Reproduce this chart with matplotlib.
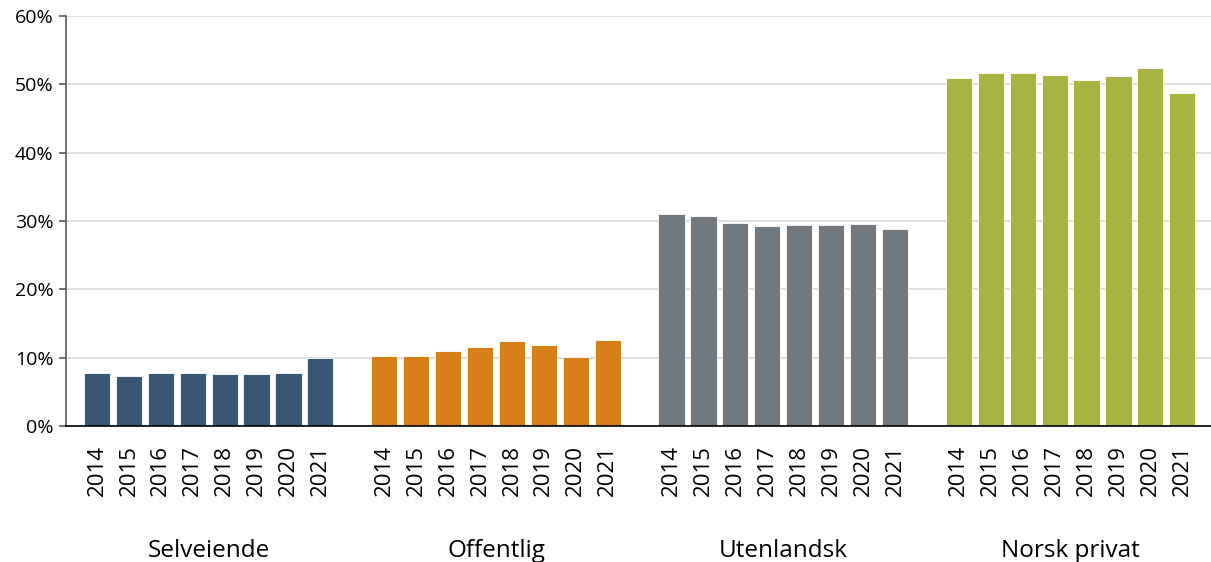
import matplotlib
matplotlib.use("Agg")
import matplotlib.pyplot as plt
import matplotlib.transforms as mtransforms
from matplotlib.ticker import FuncFormatter

years = ["2014", "2015", "2016", "2017", "2018", "2019", "2020", "2021"]
groups = ["Selveiende", "Offentlig", "Utenlandsk", "Norsk privat"]
selveiende = [7.8, 7.3, 7.8, 7.8, 7.65, 7.65, 7.8, 9.95]
offentlig = [10.3, 10.3, 11.0, 11.5, 12.5, 11.85, 10.15, 12.65]
utenlandsk = [31.0, 30.8, 29.7, 29.2, 29.4, 29.4, 29.5, 28.8]
norsk_privat = [50.9, 51.6, 51.6, 51.4, 50.6, 51.2, 52.4, 48.7]
series = [selveiende, offentlig, utenlandsk, norsk_privat]
colors = ["#3A5675", "#D77F17", "#707880", "#A8B340"]

plt.rcParams['font.family'] = ['Open Sans', 'DejaVu Sans']

fig = plt.figure(figsize=(12.11, 5.62), dpi=100)
ax = fig.add_axes([0.0545, 0.242, 0.9455, 0.7295])

xpos_all = []
labels_all = []
for g, (vals, col) in enumerate(zip(series, colors)):
    start = g * 9
    xs = [start + i for i in range(len(vals))]
    ax.bar(xs, vals, width=0.82, color=col, edgecolor="white", linewidth=0.6, zorder=3)
    xpos_all += xs
    labels_all += years
    trans = mtransforms.blended_transform_factory(ax.transData, ax.transAxes)
    ax.text(start + 3.5, -0.305, groups[g], transform=trans, ha="center", va="center",
            fontsize=17.5, color="#000000")

ax.set_xlim(-0.97, 34.9)
ax.set_ylim(0, 60)
ax.set_yticks(range(0, 61, 10))
ax.yaxis.set_major_formatter(FuncFormatter(lambda v, p: f"{int(v)}%"))
ax.set_xticks(xpos_all)
ax.set_xticklabels(labels_all, rotation=90, fontsize=16)
ax.tick_params(axis="x", length=0, pad=14)
ax.tick_params(axis="y", direction="out", length=5, width=1.2, color="#595959",
               labelsize=14, pad=4)

ax.grid(axis="y", color="#D9D9D9", linewidth=1.2, zorder=0)
for s in ["top", "right"]:
    ax.spines[s].set_visible(False)
ax.spines["left"].set_color("#595959")
ax.spines["left"].set_linewidth(1.2)
ax.spines["bottom"].set_color("#000000")
ax.spines["bottom"].set_linewidth(1.2)
ax.spines["bottom"].set_zorder(4)

fig.savefig("out.png", dpi=100)
